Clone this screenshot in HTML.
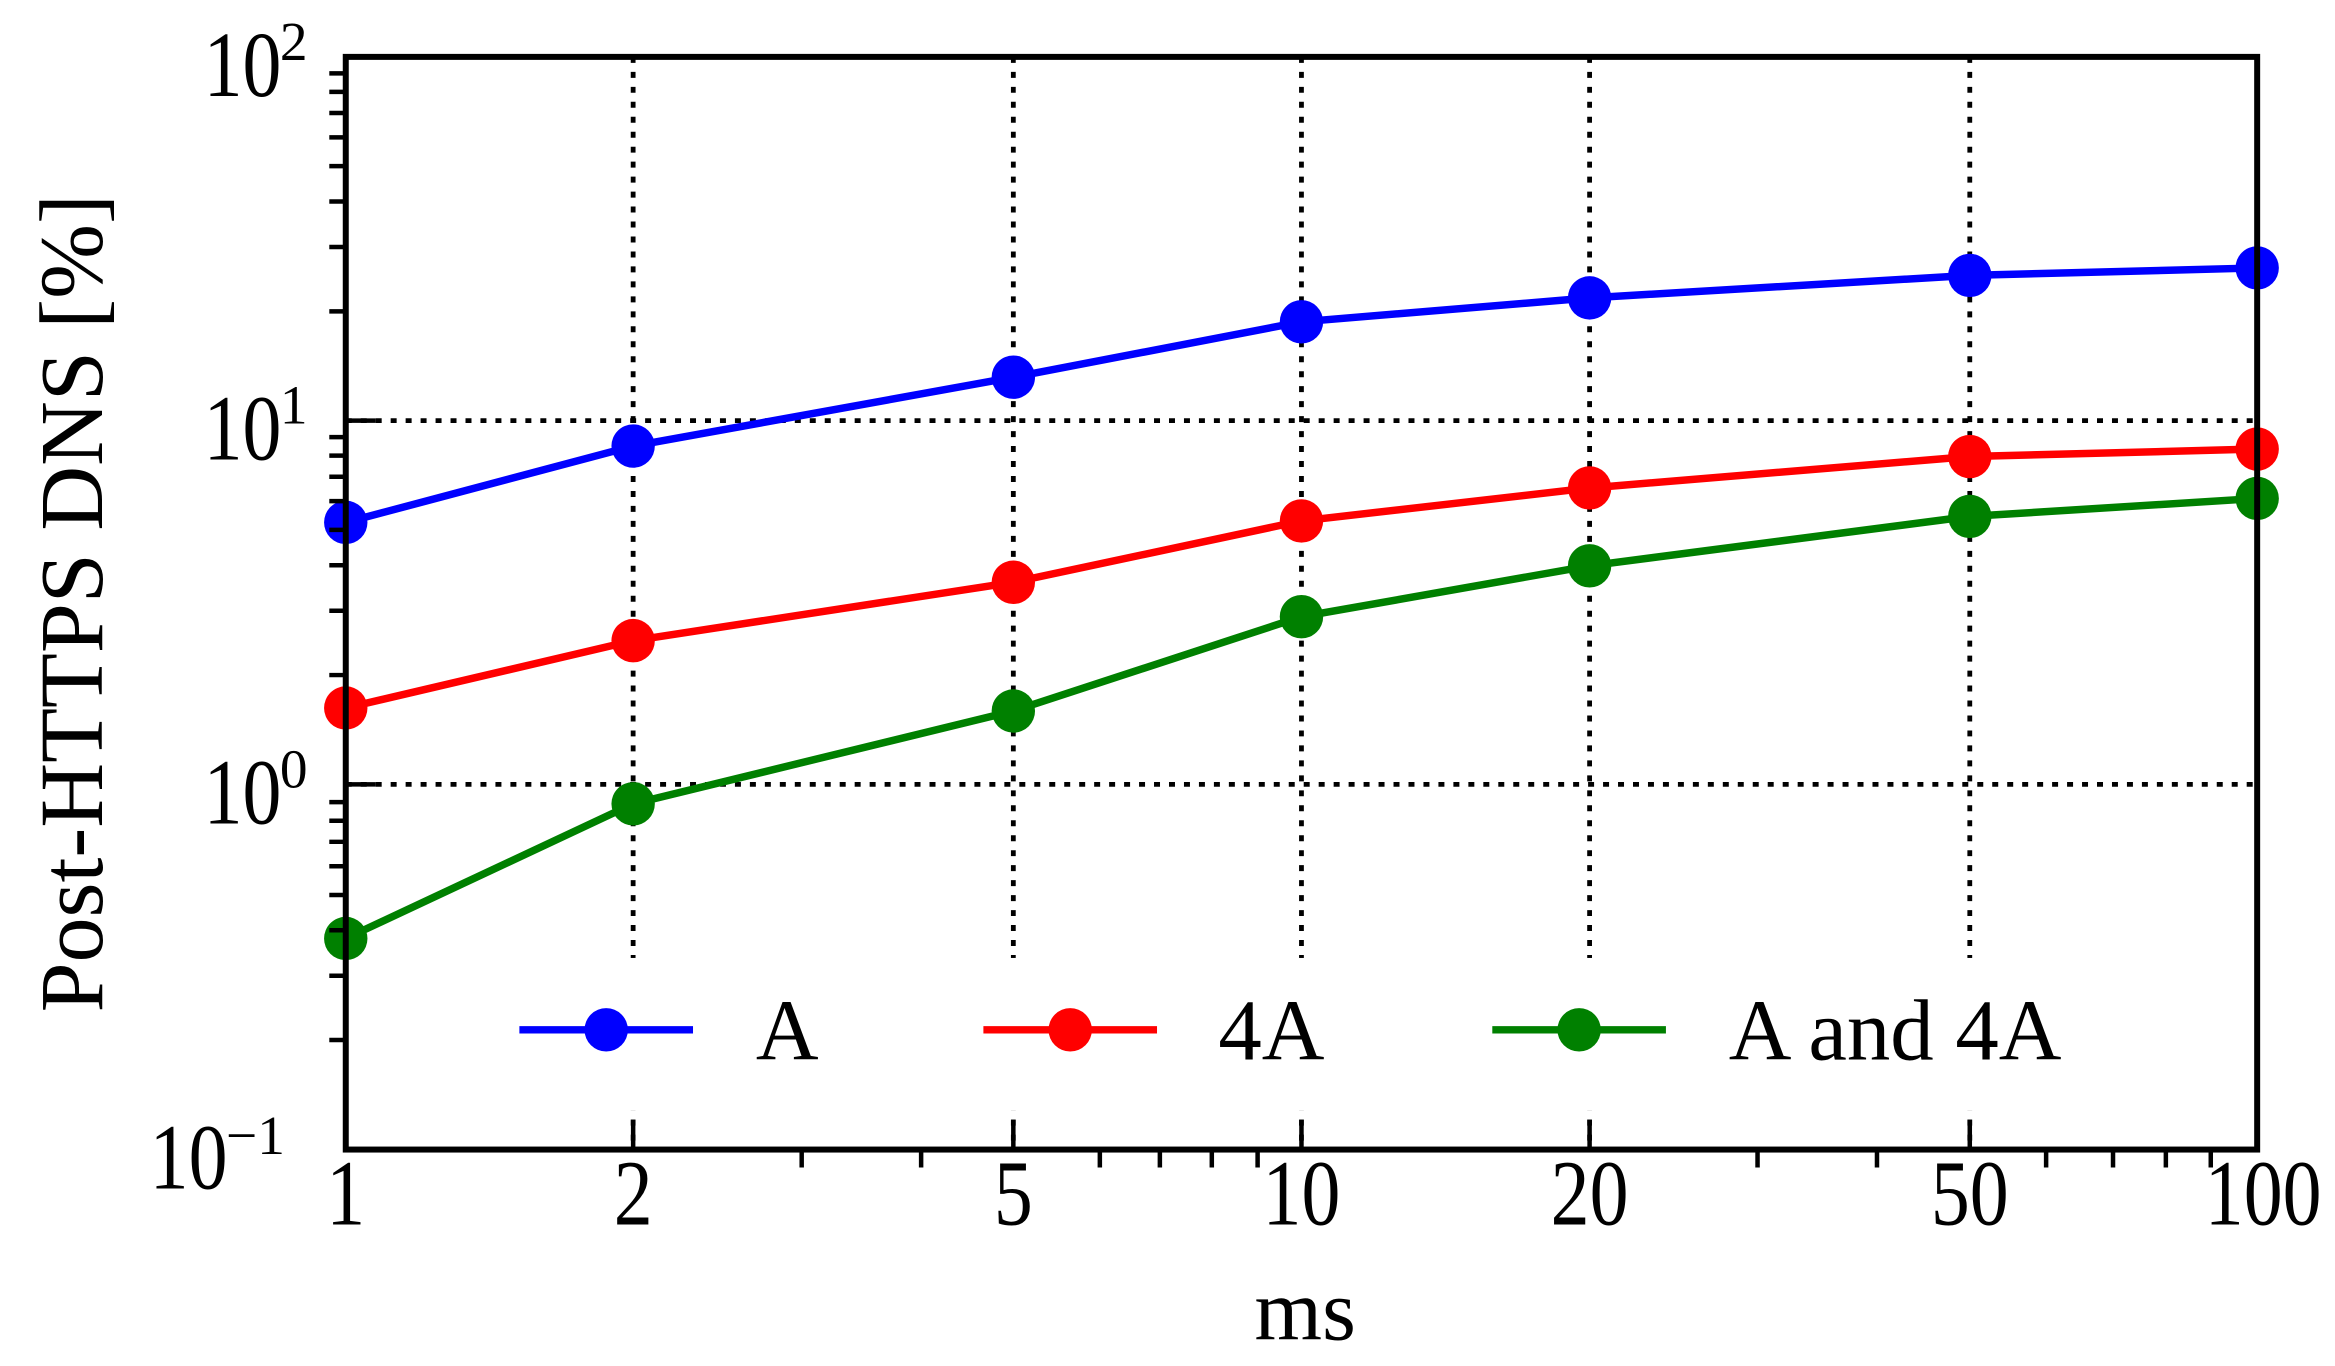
<!DOCTYPE html>
<html><head><meta charset="utf-8"><style>html,body{margin:0;padding:0;background:#fff}svg{display:block}</style></head>
<body>
<svg width="2335" height="1366" viewBox="0 0 1560 912.6" preserveAspectRatio="none" xmlns="http://www.w3.org/2000/svg" font-family="Liberation Serif, serif">
<rect width="1560" height="912.6" fill="#fff"/>
<!-- grid -->
<g stroke="#000" stroke-width="3.2" stroke-dasharray="4,6" fill="none">
<line x1="231" y1="281" x2="1508" y2="281"/>
<line x1="231" y1="524" x2="1508" y2="524"/>
<line x1="423" y1="38" x2="423" y2="768"/>
<line x1="677" y1="38" x2="677" y2="768"/>
<line x1="869.5" y1="38" x2="869.5" y2="768"/>
<line x1="1062" y1="38" x2="1062" y2="768"/>
<line x1="1316" y1="38" x2="1316" y2="768"/>
</g>
<!-- series -->
<g stroke-width="5" fill="none">
<polyline stroke="#0000ff" points="231,349 423,298 677,252 869.5,215 1062,199 1316,184 1508,179"/>
<polyline stroke="#ff0000" points="231,473 423,428 677,389 869.5,348 1062,326 1316,305 1508,300"/>
<polyline stroke="#008000" points="231,627 423,537 677,475 869.5,412 1062,378 1316,345 1508,333"/>
</g>
<g fill="#0000ff"><circle cx="231" cy="349" r="14.5"/><circle cx="423" cy="298" r="14.5"/><circle cx="677" cy="252" r="14.5"/><circle cx="869.5" cy="215" r="14.5"/><circle cx="1062" cy="199" r="14.5"/><circle cx="1316" cy="184" r="14.5"/><circle cx="1508" cy="179" r="14.5"/></g>
<g fill="#ff0000"><circle cx="231" cy="473" r="14.5"/><circle cx="423" cy="428" r="14.5"/><circle cx="677" cy="389" r="14.5"/><circle cx="869.5" cy="348" r="14.5"/><circle cx="1062" cy="326" r="14.5"/><circle cx="1316" cy="305" r="14.5"/><circle cx="1508" cy="300" r="14.5"/></g>
<g fill="#008000"><circle cx="231" cy="627" r="14.5"/><circle cx="423" cy="537" r="14.5"/><circle cx="677" cy="475" r="14.5"/><circle cx="869.5" cy="412" r="14.5"/><circle cx="1062" cy="378" r="14.5"/><circle cx="1316" cy="345" r="14.5"/><circle cx="1508" cy="333" r="14.5"/></g>
<!-- legend -->
<rect x="330" y="640" width="1080" height="102" fill="#fff"/>
<g stroke-width="5"><line x1="347" y1="688" x2="463" y2="688" stroke="#0000ff"/><line x1="657" y1="688" x2="773" y2="688" stroke="#ff0000"/><line x1="997" y1="688" x2="1113" y2="688" stroke="#008000"/></g>
<circle cx="405" cy="688" r="14.5" fill="#0000ff"/><circle cx="715" cy="688" r="14.5" fill="#ff0000"/><circle cx="1055" cy="688" r="14.5" fill="#008000"/>
<g font-size="58" fill="#000"><text x="505" y="708">A</text><text x="814" y="708">4A</text><text x="1155" y="708">A and 4A</text></g>
<!-- ticks -->
<g stroke="#000" stroke-width="3">
<path d="M220,694.8H231M220,651.9H231M220,621.5H231M220,597.9H231M220,578.7H231M220,562.4H231M220,548.3H231M220,535.9H231
M220,451H231M220,408H231M220,377.6H231M220,354H231M220,334.8H231M220,318.5H231M220,304.4H231M220,292H231
M220,208H231M220,165H231M220,134.6H231M220,111H231M220,91.8H231M220,75.5H231M220,61.4H231M220,49H231"/>
<path d="M535.6,768V780M615.4,768V780M734.8,768V780M774.9,768V780M809.6,768V780M840.2,768V780
M1174.2,768V780M1254,768V780M1367,768V780M1411.7,768V780M1447,768V780M1477,768V780"/>
<path d="M231,281H251M231,524H251M231,38H251M231,768H251M423,768V748M677,768V748M869.5,768V748M1062,768V748M1316,768V748M1508,768V748"/>
</g>
<rect x="231" y="38" width="1277" height="730" fill="none" stroke="#000" stroke-width="4"/>
<!-- tick labels -->
<g font-size="52" fill="#000" text-anchor="middle">
<text transform="translate(231,818) scale(1,1.2)">1</text>
<text transform="translate(423,818) scale(1,1.2)">2</text>
<text transform="translate(677,818) scale(1,1.2)">5</text>
<text transform="translate(869.5,818) scale(1,1.2)">10</text>
<text transform="translate(1062,818) scale(1,1.2)">20</text>
<text transform="translate(1316,818) scale(1,1.2)">50</text>
<text transform="translate(1512,818) scale(1,1.2)">100</text>
</g>
<g font-size="52" fill="#000">
<text transform="translate(136,64) scale(1,1.2)">10</text><text x="187" y="40" font-size="37">2</text>
<text transform="translate(136,307) scale(1,1.2)">10</text><text x="187" y="283" font-size="37">1</text>
<text transform="translate(136,550) scale(1,1.2)">10</text><text x="187" y="526" font-size="37">0</text>
<text transform="translate(100,794) scale(1,1.2)">10</text><text x="151" y="771" font-size="37">−1</text>
</g>
<text x="872" y="895" font-size="58" text-anchor="middle">ms</text>
<text transform="translate(68,403) rotate(-90)" font-size="60" text-anchor="middle">Post-HTTPS DNS [%]</text>
</svg>
</body></html>
